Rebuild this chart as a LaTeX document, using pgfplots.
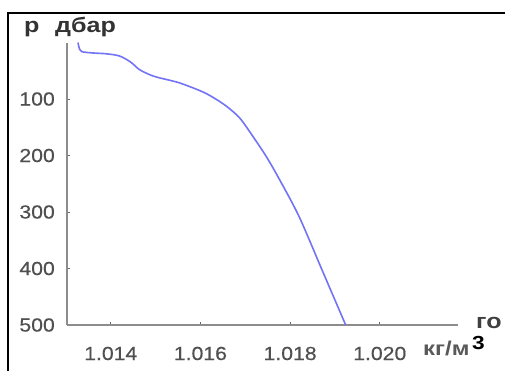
\documentclass[border=0pt]{standalone}
\usepackage{pgfplots}
\pgfplotsset{compat=1.18}
\usepackage{fontspec}
\setmainfont{Liberation Sans}[FakeStretch=1.12]
\newfontfamily\tickfont{Liberation Sans}[FakeStretch=1.12, FakeBold=0.5]
\newfontfamily\lblfont{Liberation Sans Bold}[FakeStretch=1.2]
\definecolor{curve}{RGB}{115,115,245}
\definecolor{axgray}{RGB}{140,140,140}
\definecolor{lblgray}{RGB}{80,80,80}
\begin{document}
\begin{tikzpicture}
\useasboundingbox (0,0) rectangle (505bp,371bp);
\draw[line width=2bp, black] (8bp,0) -- (8bp,358bp) -- (505bp,358bp);
\begin{axis}[
  at={(67bp,46bp)}, anchor=south west, scale only axis,
  width=391bp, height=282.5bp,
  xmin=1.013024, xmax=1.021745, ymin=0, ymax=500, y dir=reverse,
  axis x line=bottom, axis y line=left,
  axis line style={-, axgray, line width=1.6bp},
  xtick={1.014,1.016,1.018,1.020}, xticklabels={1.014,1.016,1.018,1.020},
  ytick={100,200,300,400,500}, yticklabels={100,200,300,400,500},
  tick align=inside, major tick length=3bp,
  tick style={black!60, line width=1bp},
  tick label style={font=\tickfont\fontsize{19}{20}\selectfont, text=lblgray, inner sep=0pt},
  xticklabel style={anchor=base, yshift=-35bp},
  yticklabel style={anchor=east, xshift=-12bp},
  clip=false
]
\addplot[curve, line width=1.6bp, smooth] coordinates {
(1.01327,0) (1.01329,8) (1.01335,16) (1.0136,18.5) (1.0139,20) (1.0142,24)
(1.01445,35) (1.01464,48) (1.01490,58) (1.01509,62.6) (1.01553,71.4)
(1.01604,87) (1.01632,99) (1.01660,114) (1.01688,134) (1.01716,165)
(1.01747,202) (1.01776,242) (1.0182,308) (1.01872,404) (1.01924,500)
};
\end{axis}
\node[anchor=base west, inner sep=0, font=\lblfont\fontsize{21}{22}\selectfont, text=black!80] at (24bp,338bp) {р};
\node[anchor=base west, inner sep=0, font=\lblfont\fontsize{21}{22}\selectfont, text=black!80] at (55bp,338bp) {дбар};
\node[anchor=base west, inner sep=0, font=\lblfont\fontsize{21}{22}\selectfont, text=black!75] at (476bp,42.5bp) {го};
\node[anchor=base west, inner sep=0, font=\lblfont\fontsize{20}{22}\selectfont, text=black!65] at (423bp,16bp) {кг/м};
\node[anchor=base west, inner sep=0, font=\lblfont\fontsize{19}{22}\selectfont, text=black] at (472bp,22bp) {3};
\end{tikzpicture}
\end{document}
